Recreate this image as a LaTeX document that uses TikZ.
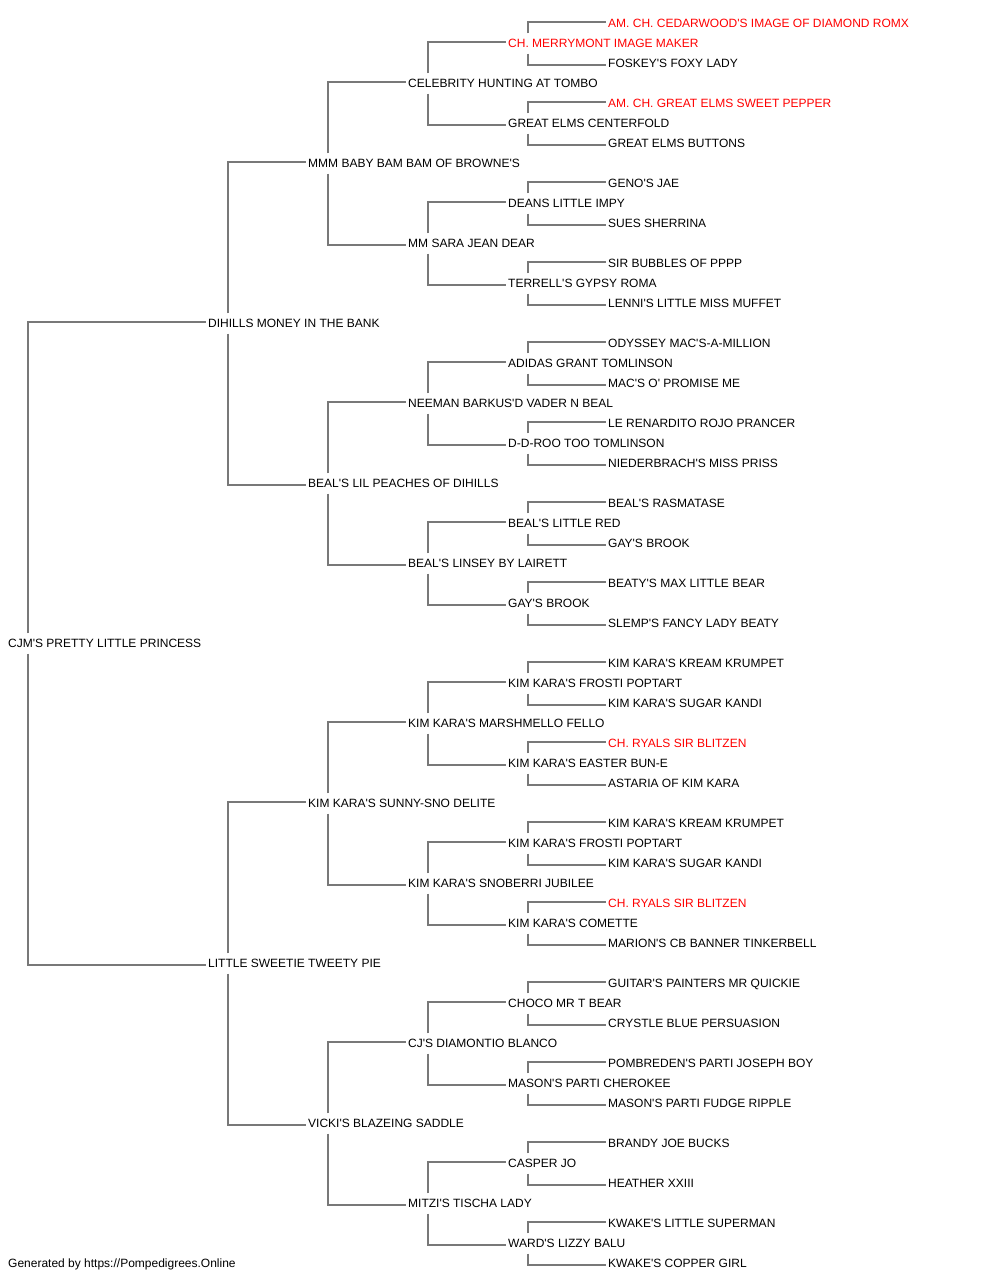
\documentclass[tikz,border=0pt]{standalone}
\usepackage{fontspec}
\setmainfont{Liberation Sans}[Ligatures=TeXOff]
\definecolor{pedred}{RGB}{255,0,0}
\definecolor{linegray}{RGB}{120,120,120}
\begin{document}
\begin{tikzpicture}[x=1pt,y=-1pt,
  lab/.style={anchor=west,inner xsep=2pt,inner ysep=5.7pt,text height=8.6pt,text depth=0pt,font=\fontsize{12}{14}\selectfont},
  conn/.style={draw=linegray,line width=2pt}]
\useasboundingbox[fill=white] (0,0) rectangle (1000,1280);
% generation 0
\node[lab] (n0-0) at (6,643.5) {CJM'S PRETTY LITTLE PRINCESS};
% generation 1
\foreach \t/\c [count=\i from 0] in {DIHILLS MONEY IN THE BANK/black, LITTLE SWEETIE TWEETY PIE/black}
  \node[lab,text=\c] (n1-\i) at (206,{323.5+640*\i}) {\t};
% generation 2
\foreach \t/\c [count=\i from 0] in {MMM BABY BAM BAM OF BROWNE'S/black, BEAL'S LIL PEACHES OF DIHILLS/black, KIM KARA'S SUNNY-SNO DELITE/black, VICKI'S BLAZEING SADDLE/black}
  \node[lab,text=\c] (n2-\i) at (306,{163.5+320*\i}) {\t};
% generation 3
\foreach \t/\c [count=\i from 0] in {CELEBRITY HUNTING AT TOMBO/black, MM SARA JEAN DEAR/black, NEEMAN BARKUS'D VADER N BEAL/black, BEAL'S LINSEY BY LAIRETT/black, KIM KARA'S MARSHMELLO FELLO/black, KIM KARA'S SNOBERRI JUBILEE/black, CJ'S DIAMONTIO BLANCO/black, MITZI'S TISCHA LADY/black}
  \node[lab,text=\c] (n3-\i) at (406,{83.5+160*\i}) {\t};
% generation 4
\foreach \t/\c [count=\i from 0] in {CH. MERRYMONT IMAGE MAKER/pedred, GREAT ELMS CENTERFOLD/black, DEANS LITTLE IMPY/black, TERRELL'S GYPSY ROMA/black, ADIDAS GRANT TOMLINSON/black, D-D-ROO TOO TOMLINSON/black, BEAL'S LITTLE RED/black, GAY'S BROOK/black, KIM KARA'S FROSTI POPTART/black, KIM KARA'S EASTER BUN-E/black, KIM KARA'S FROSTI POPTART/black, KIM KARA'S COMETTE/black, CHOCO MR T BEAR/black, MASON'S PARTI CHEROKEE/black, CASPER JO/black, WARD'S LIZZY BALU/black}
  \node[lab,text=\c] (n4-\i) at (506,{43.5+80*\i}) {\t};
% generation 5
\foreach \t/\c [count=\i from 0] in {AM. CH. CEDARWOOD'S IMAGE OF DIAMOND ROMX/pedred, FOSKEY'S FOXY LADY/black, AM. CH. GREAT ELMS SWEET PEPPER/pedred, GREAT ELMS BUTTONS/black, GENO'S JAE/black, SUES SHERRINA/black, SIR BUBBLES OF PPPP/black, LENNI'S LITTLE MISS MUFFET/black, ODYSSEY MAC'S-A-MILLION/black, MAC'S O' PROMISE ME/black, LE RENARDITO ROJO PRANCER/black, NIEDERBRACH'S MISS PRISS/black, BEAL'S RASMATASE/black, GAY'S BROOK/black, BEATY'S MAX LITTLE BEAR/black, SLEMP'S FANCY LADY BEATY/black, KIM KARA'S KREAM KRUMPET/black, KIM KARA'S SUGAR KANDI/black, CH. RYALS SIR BLITZEN/pedred, ASTARIA OF KIM KARA/black, KIM KARA'S KREAM KRUMPET/black, KIM KARA'S SUGAR KANDI/black, CH. RYALS SIR BLITZEN/pedred, MARION'S CB BANNER TINKERBELL/black, GUITAR'S PAINTERS MR QUICKIE/black, CRYSTLE BLUE PERSUASION/black, POMBREDEN'S PARTI JOSEPH BOY/black, MASON'S PARTI FUDGE RIPPLE/black, BRANDY JOE BUCKS/black, HEATHER XXIII/black, KWAKE'S LITTLE SUPERMAN/black, KWAKE'S COPPER GIRL/black}
  \node[lab,text=\c] (n5-\i) at (606,{23.5+40*\i}) {\t};
% footer
\node[lab] (foot) at (6,1263.5) {Generated by https://Pompedigrees.Online};
% connectors
\foreach \g in {0,...,4}{
  \pgfmathtruncatemacro\nn{2^\g-1}
  \pgfmathtruncatemacro\h{\g+1}
  \foreach \k in {0,...,\nn}{
    \pgfmathtruncatemacro\s{2*\k}
    \pgfmathtruncatemacro\d{2*\k+1}
    \draw[conn] ([xshift=22pt]n\g-\k.north west) |- ([yshift=1.5pt]n\h-\s.west);
    \draw[conn] ([xshift=22pt]n\g-\k.south west) |- ([yshift=-1.5pt]n\h-\d.west);
  }
}
\end{tikzpicture}
\end{document}
